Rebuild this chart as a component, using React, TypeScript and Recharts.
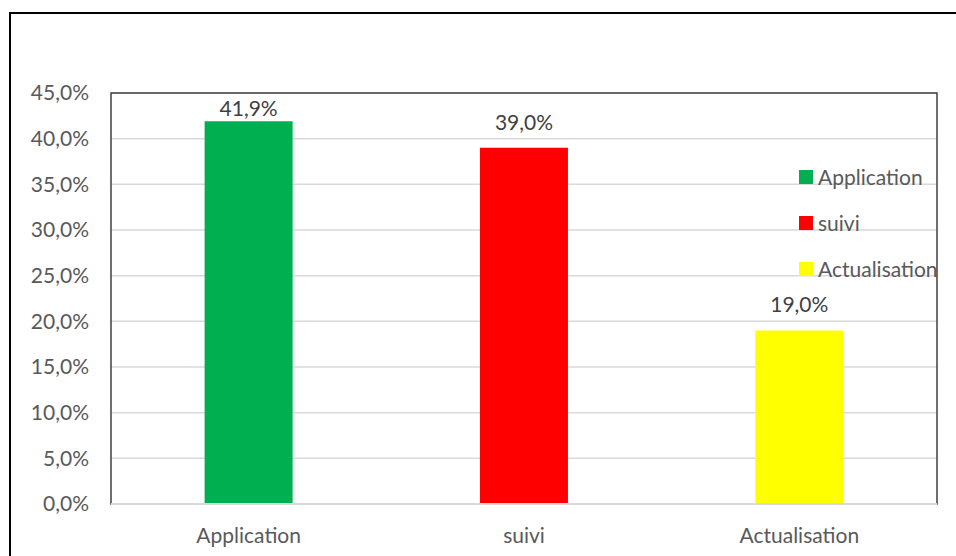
import { Bar, BarChart, CartesianGrid, Cell, ReferenceArea, ReferenceLine, XAxis, YAxis } from "recharts";

const categories = ["Application", "suivi", "Actualisation"];
const shares = [41.9, 39.0, 19.0];
const colors = ["#00b050", "#ff0000", "#ffff00"];
const yTicks = [0, 5, 10, 15, 20, 25, 30, 35, 40, 45];

const data = categories.map((name, i) => ({ name, value: shares[i] }));

const FONT = "Lato, 'Open Sans', sans-serif";
const FS = 21;
const TEXT = "#595959";
const MARGIN = { top: 93, right: 19, left: 0, bottom: 0 };

const pct = (v: number) => `${v.toFixed(1).replace(".", ",")}%`;

const ValueLabel = (props: any) => {
  const { x, y, width, value } = props;
  // Excel pushes the label down when it would leave the plot area
  const baseline = Math.max(y - 18, MARGIN.top + 23);
  return (
    <text x={x + width / 2} y={baseline} textAnchor="middle" fontSize={FS} fontFamily={FONT} fill="#404040">
      {pct(value)}
    </text>
  );
};

const Legend = () => (
  <div style={{ position: "absolute", left: 799, top: 153, fontFamily: FONT, fontSize: FS, color: TEXT, lineHeight: 1 }}>
    {categories.map((c, i) => (
      <div key={c} style={{ display: "flex", alignItems: "center", height: 46 }}>
        <span style={{ width: 14, height: 14, background: colors[i], marginRight: 5, marginTop: 2 }} />
        <span>{c}</span>
      </div>
    ))}
  </div>
);

export default function App() {
  return (
    <div style={{ position: "absolute", left: 0, top: 0, width: 956, height: 556, overflow: "hidden", background: "#fff" }}>
      <div style={{ position: "absolute", left: 9, top: 12, width: 980, height: 600, border: "2px solid #000" }} />
      <div style={{ position: "absolute", left: 0, top: 0 }}>
        <BarChart width={956} height={556} data={data} margin={MARGIN} barCategoryGap="34%">
          <CartesianGrid vertical={false} stroke="#d9d9d9" strokeWidth={1.5} />
          <XAxis
            dataKey="name"
            axisLine={false}
            tickLine={false}
            tickSize={0}
            tickMargin={24}
            height={52}
            tick={{ fill: TEXT, fontSize: FS, fontFamily: FONT }}
          />
          <YAxis
            domain={[0, 45]}
            ticks={yTicks}
            width={111}
            axisLine={false}
            tickLine={false}
            tickSize={0}
            tickMargin={22}
            tickFormatter={pct}
            tick={{ fill: TEXT, fontSize: FS, fontFamily: FONT }}
          />
          <ReferenceArea y1={0} y2={45} fill="none" stroke="#404040" strokeWidth={1.5} />
          <ReferenceLine y={0} stroke="#d9d9d9" strokeWidth={2} />
          <Bar dataKey="value" isAnimationActive={false} label={<ValueLabel />}>
            {data.map((d, i) => (
              <Cell key={d.name} fill={colors[i]} />
            ))}
          </Bar>
        </BarChart>
      </div>
      <Legend />
    </div>
  );
}
